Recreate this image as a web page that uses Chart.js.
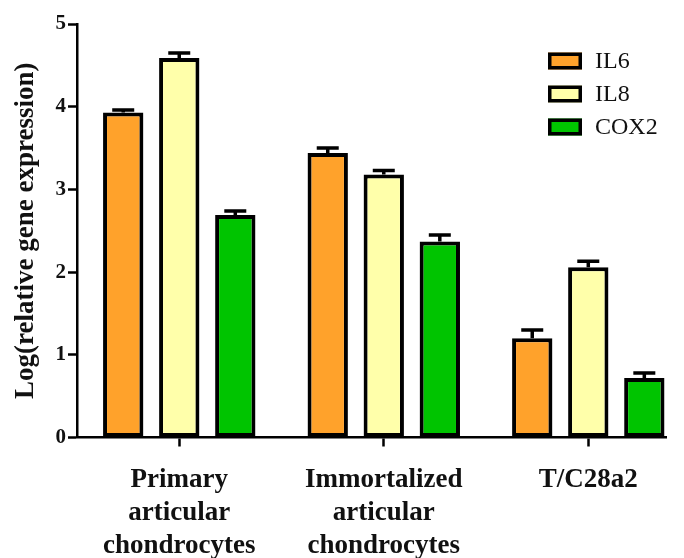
<!DOCTYPE html>
<html>
<head>
<meta charset="utf-8">
<script src="https://cdn.jsdelivr.net/npm/chart.js@4/dist/chart.umd.min.js"></script>
<style>
  html, body { margin: 0; padding: 0; background: #fff; }
  #wrap { width: 684px; height: 558px; }
</style>
</head>
<body>
<div id="wrap"><canvas id="c" width="684" height="558"></canvas></div>
<script>
// Cell groups along the x axis (multi-line labels)
const categories = [
  ['Primary', 'articular', 'chondrocytes'],
  ['Immortalized', 'articular', 'chondrocytes'],
  ['T/C28a2']
];
const seriesNames = ['IL6', 'IL8', 'COX2'];
const seriesColors = ['#FFA22B', '#FFFFAA', '#00C400'];

// Log(relative gene expression), mean and upper error per group
const il6 = [3.93, 3.44, 1.20];
const il6Err = [0.03, 0.06, 0.10];
const il8 = [4.59, 3.18, 2.06];
const il8Err = [0.06, 0.05, 0.07];
const cox2 = [2.69, 2.37, 0.72];
const cox2Err = [0.05, 0.08, 0.06];

const yTicks = [0, 1, 2, 3, 4, 5];

const FONT = "'Liberation Serif', 'Times New Roman', serif";

const values = [il6, il8, cox2];
const errors = [il6Err, il8Err, cox2Err];

const datasets = seriesNames.map((name, s) => ({
  label: name,
  data: values[s].map((v, i) => ({ x: i, y: v })),
  errors: errors[s],
  backgroundColor: seriesColors[s],
  borderColor: '#000',
  borderWidth: 4,
  borderSkipped: false,
  categoryPercentage: 0.822,
  barPercentage: 0.72
}));

// Upward-only error bars with caps
const errorBars = {
  id: 'errorBars',
  afterDatasetsDraw(chart) {
    const ctx = chart.ctx;
    const yScale = chart.scales.y;
    ctx.save();
    ctx.strokeStyle = '#000';
    ctx.lineWidth = 3.5;
    ctx.lineCap = 'butt';
    chart.data.datasets.forEach((ds, di) => {
      const meta = chart.getDatasetMeta(di);
      meta.data.forEach((bar, i) => {
        const v = ds.data[i].y;
        const e = ds.errors[i];
        const yTop = yScale.getPixelForValue(v + e);
        const cap = 11;
        ctx.beginPath();
        ctx.moveTo(bar.x, bar.y);
        ctx.lineTo(bar.x, yTop);
        ctx.moveTo(bar.x - cap, yTop);
        ctx.lineTo(bar.x + cap, yTop);
        ctx.stroke();
      });
    });
    ctx.restore();
  }
};

// Legend block in the upper right of the plot area
const boxLegend = {
  id: 'boxLegend',
  afterDraw(chart) {
    const ctx = chart.ctx;
    const area = chart.chartArea;
    const x0 = area.right - 118;
    const y0 = area.top + 37;
    const rowGap = 33;
    ctx.save();
    ctx.font = '24px ' + FONT;
    ctx.textBaseline = 'middle';
    ctx.textAlign = 'left';
    chart.data.datasets.forEach((ds, i) => {
      const cy = y0 + i * rowGap;
      ctx.fillStyle = ds.backgroundColor;
      ctx.fillRect(x0, cy - 8.5, 34, 17);
      ctx.lineWidth = 3.5;
      ctx.strokeStyle = '#000';
      ctx.strokeRect(x0 + 1.75, cy - 6.75, 30.5, 13.5);
      ctx.fillStyle = '#111';
      ctx.fillText(ds.label, x0 + 47, cy + 1);
    });
    ctx.restore();
  }
};

new Chart(document.getElementById('c'), {
  type: 'bar',
  data: { datasets },
  plugins: [errorBars, boxLegend],
  options: {
    responsive: false,
    animation: false,
    layout: { padding: { top: 24, right: 18, left: 0, bottom: 0 } },
    plugins: {
      legend: { display: false },
      tooltip: { enabled: false }
    },
    scales: {
      x: {
        type: 'linear',
        min: -0.5,
        max: 2.38,
        offset: false,
        afterBuildTicks(scale) {
          scale.ticks = categories.map((_, i) => ({ value: i }));
        },
        afterFit(scale) { scale.height = 120.5; },
        grid: {
          offset: false,
          drawOnChartArea: false,
          drawTicks: true,
          tickLength: 9,
          tickWidth: 2.5,
          tickColor: '#000'
        },
        border: { display: true, color: '#000', width: 2.5 },
        ticks: {
          autoSkip: false,
          maxRotation: 0,
          padding: 17,
          color: '#111',
          font: { family: FONT, size: 27, weight: 'bold', lineHeight: 1.22 },
          callback: (v) => categories[v]
        }
      },
      y: {
        min: 0,
        max: 5,
        afterBuildTicks(scale) {
          scale.ticks = yTicks.map(v => ({ value: v }));
        },
        afterFit(scale) { scale.width = 77; },
        grid: {
          drawOnChartArea: false,
          drawTicks: true,
          tickLength: 9,
          tickWidth: 2.5,
          tickColor: '#000'
        },
        border: { display: true, color: '#000', width: 2.5 },
        ticks: {
          padding: 2,
          color: '#111',
          font: { family: FONT, size: 21, weight: 'bold' }
        },
        title: {
          display: true,
          text: 'Log(relative gene expression)',
          color: '#111',
          padding: { top: 10, bottom: 0 },
          font: { family: FONT, size: 27, weight: 'bold' }
        }
      }
    }
  }
});
</script>
</body>
</html>
